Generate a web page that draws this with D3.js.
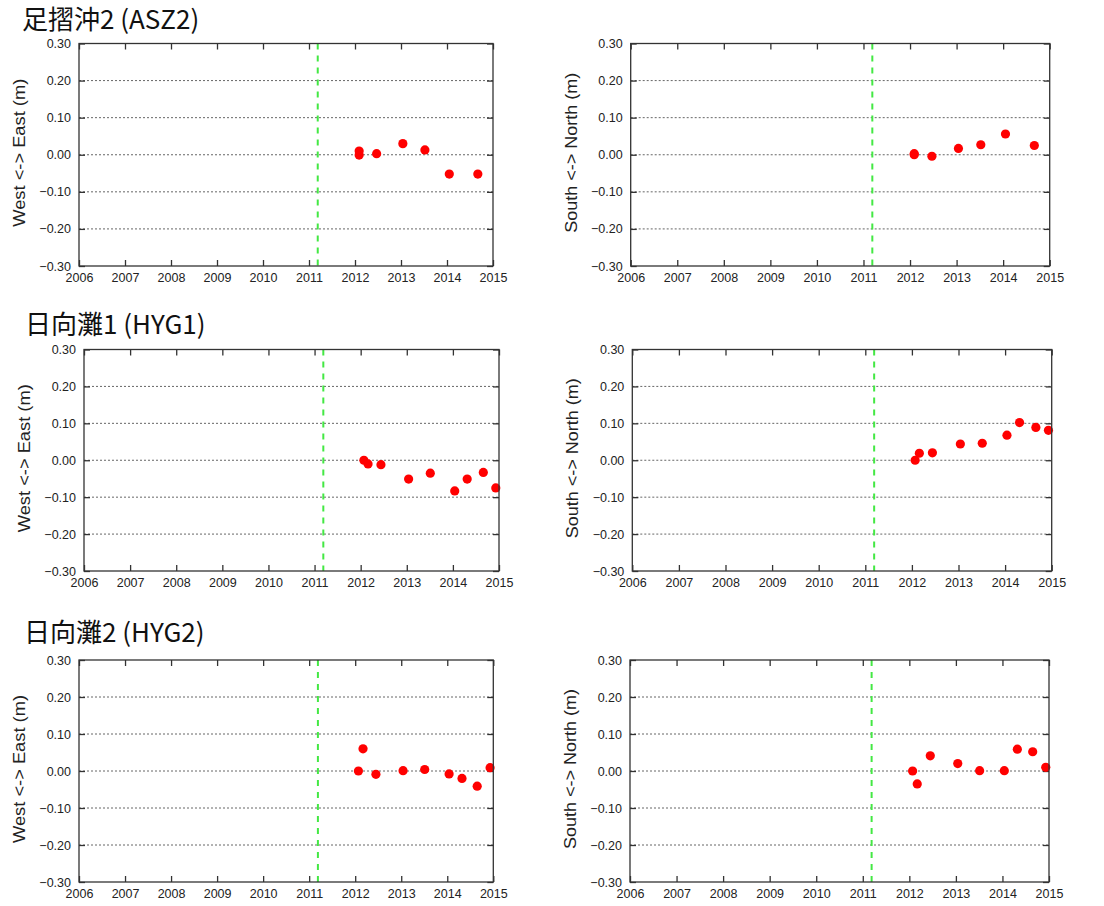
<!DOCTYPE html>
<html><head><meta charset="utf-8">
<script src="https://cdn.jsdelivr.net/npm/d3@7/dist/d3.min.js"></script>
<style>
html,body{margin:0;padding:0;background:#fff;}
svg{display:block;}
</style></head>
<body>
<svg id="chart" width="1104" height="906"></svg>
<script>
// ---- data ----
const yearTicks = [2006, 2007, 2008, 2009, 2010, 2011, 2012, 2013, 2014, 2015];
const valueTicks = [0.30, 0.20, 0.10, 0.00, -0.10, -0.20, -0.30];
const quakeDate = 2011.19;
const stationTitles = ["足摺沖2 (ASZ2)", "日向灘1 (HYG1)", "日向灘2 (HYG2)"];
const ewLabel = "West <-> East (m)";
const nsLabel = "South <-> North (m)";

const asz2Time = [2012.09, 2012.09, 2012.47, 2013.04, 2013.52, 2014.05, 2014.67];
const asz2EW   = [0.010, -0.001, 0.003, 0.030, 0.013, -0.052, -0.052];
const asz2NS   = [0.003, 0.000, -0.004, 0.017, 0.027, 0.056, 0.025];

const hyg1Time = [2012.07, 2012.16, 2012.44, 2013.04, 2013.51, 2014.04, 2014.31, 2014.66, 2014.93];
const hyg1EW   = [0.000, -0.010, -0.012, -0.051, -0.035, -0.083, -0.051, -0.033, -0.075];
const hyg1NS   = [0.000, 0.019, 0.020, 0.044, 0.046, 0.068, 0.102, 0.089, 0.081];

const hyg2Time = [2012.07, 2012.17, 2012.45, 2013.04, 2013.51, 2014.04, 2014.32, 2014.65, 2014.93];
const hyg2EW   = [0.000, 0.060, -0.009, 0.001, 0.004, -0.008, -0.020, -0.041, 0.009];
const hyg2NS   = [0.000, -0.035, 0.041, 0.020, 0.001, 0.001, 0.059, 0.052, 0.010];

// ---- layout ----
const rows = [
  {title: stationTitles[0], tx: 22, ty: 29, top: 43.5, bottom: 266,
   time: asz2Time, ew: asz2EW, ns: asz2NS,
   left: [79, 493], right: [630.7, 1049.7]},
  {title: stationTitles[1], tx: 25, ty: 334, top: 349.5, bottom: 571,
   time: hyg1Time, ew: hyg1EW, ns: hyg1NS,
   left: [84, 499], right: [632.3, 1051.7]},
  {title: stationTitles[2], tx: 24, ty: 642, top: 660, bottom: 882,
   time: hyg2Time, ew: hyg2EW, ns: hyg2NS,
   left: [79, 493.3], right: [630, 1049]}
];

const svg = d3.select("#chart");
const FONT = "'Liberation Sans', Arial, Helvetica, sans-serif";

function panel(x0, x1, y0, y1, times, vals, label, labelLen) {
  const x = d3.scaleLinear().domain([2006, 2015]).range([x0, x1]);
  const y = d3.scaleLinear().domain([-0.30, 0.30]).range([y1, y0]);
  const g = svg.append("g");

  // gridlines (dotted) at inner ticks
  g.selectAll("line.grid").data(valueTicks.filter(v => Math.abs(v) < 0.29))
    .join("line").attr("class", "grid")
    .attr("x1", x0).attr("x2", x1)
    .attr("y1", d => y(d)).attr("y2", d => y(d))
    .attr("stroke", "#666").attr("stroke-width", 1)
    .attr("stroke-dasharray", "2,2");

  const yAxisL = d3.axisLeft(y).tickValues(valueTicks).tickSizeInner(-6).tickSizeOuter(0)
    .tickPadding(8).tickFormat(d3.format(".2f"));
  const ga = g.append("g").attr("transform", `translate(${x0},0)`).call(yAxisL);
  ga.select(".domain").remove();
  ga.selectAll("line").attr("stroke", "#333").attr("stroke-width", 1.3);
  ga.selectAll("text").attr("font-family", FONT).attr("font-size", 12.5).attr("fill", "#222");

  const yAxisR = d3.axisRight(y).tickValues(valueTicks).tickSizeInner(-6).tickSizeOuter(0).tickFormat("");
  const gr = g.append("g").attr("transform", `translate(${x1},0)`).call(yAxisR);
  gr.select(".domain").remove();
  gr.selectAll("line").attr("stroke", "#333").attr("stroke-width", 1.3);

  const xAxisB = d3.axisBottom(x).tickValues(yearTicks).tickSizeInner(-6).tickSizeOuter(0)
    .tickPadding(7).tickFormat(d3.format("d"));
  const gb = g.append("g").attr("transform", `translate(0,${y1})`).call(xAxisB);
  gb.select(".domain").remove();
  gb.selectAll("line").attr("stroke", "#333").attr("stroke-width", 1.3);
  gb.selectAll("text").attr("font-family", FONT).attr("font-size", 12.5).attr("fill", "#222");

  const xAxisT = d3.axisTop(x).tickValues(yearTicks).tickSizeInner(-6).tickSizeOuter(0).tickFormat("");
  const gt = g.append("g").attr("transform", `translate(0,${y0})`).call(xAxisT);
  gt.select(".domain").remove();
  gt.selectAll("line").attr("stroke", "#333").attr("stroke-width", 1.3);

  // earthquake line
  g.append("line")
    .attr("x1", x(quakeDate)).attr("x2", x(quakeDate))
    .attr("y1", y0).attr("y2", y1)
    .attr("stroke", "#44e844").attr("stroke-width", 2)
    .attr("stroke-dasharray", "6,6");

  // points
  g.selectAll("circle").data(times.map((t, i) => [t, vals[i]]))
    .join("circle")
    .attr("cx", d => x(d[0])).attr("cy", d => y(d[1]))
    .attr("r", 4.6).attr("fill", "#ff0000");

  // frame
  g.append("rect").attr("x", x0).attr("y", y0)
    .attr("width", x1 - x0).attr("height", y1 - y0)
    .attr("fill", "none").attr("stroke", "#333").attr("stroke-width", 1.3);

  // y label
  const cy = (y0 + y1) / 2 - 2;
  g.append("text")
    .attr("transform", `translate(${x0 - 54},${cy}) rotate(-90)`)
    .attr("text-anchor", "middle")
    .attr("font-family", FONT).attr("font-size", 17).attr("fill", "#222")
    .attr("textLength", labelLen).attr("lengthAdjust", "spacingAndGlyphs")
    .text(label);
}

rows.forEach(r => {
  svg.append("text")
    .attr("x", r.tx).attr("y", r.ty)
    .attr("font-family", "'Noto Sans CJK JP', sans-serif")
    .attr("font-size", 26).attr("fill", "#111")
    .text(r.title);
  panel(r.left[0], r.left[1], r.top, r.bottom, r.time, r.ew, ewLabel, 148);
  panel(r.right[0], r.right[1], r.top, r.bottom, r.time, r.ns, nsLabel, 160);
});
</script>
</body></html>
